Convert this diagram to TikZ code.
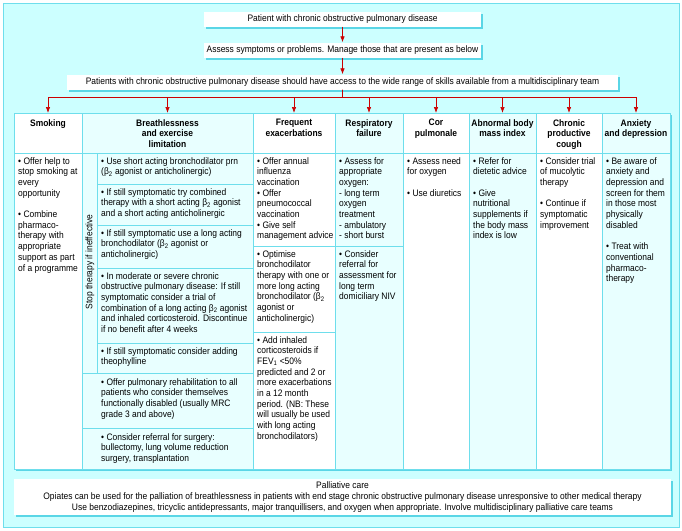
\documentclass[tikz,border=0pt]{standalone}
\usepackage{fontspec}
\setmainfont{Liberation Sans}[FakeStretch=0.9]
\usetikzlibrary{positioning,shadows,arrows.meta}

\definecolor{bgcyan}{RGB}{204,255,255}
\definecolor{rimcyan}{RGB}{110,222,236}
\definecolor{shadecyan}{RGB}{90,214,230}
\definecolor{palecyan}{RGB}{232,255,255}
\definecolor{arrred}{RGB}{204,0,0}

\tikzset{
	txt/.style={font=\fontsize{9.4}{10.7}\selectfont, inner sep=0pt, anchor=north west, align=left},
	hdr/.style={font=\bfseries\fontsize{9.4}{10.7}\selectfont, inner xsep=0pt, inner ysep=6pt, anchor=north, align=center},
	topbox/.style={fill=white, font=\fontsize{9.4}{10.7}\selectfont, inner sep=0pt,
		drop shadow={opacity=1, fill=shadecyan, shadow xshift=2pt, shadow yshift=-2pt}},
	flow/.style={arrred, line width=0.7pt, ->},
	cellline/.style={rimcyan, line width=0.8pt},
}

\begin{document}
\begin{tikzpicture}[x=1pt, y=-1pt, >={Latex[length=6pt,width=4.5pt]}]
			\useasboundingbox (0,0) rectangle (682,530);
			%%%	Frame
			\filldraw[fill=bgcyan, draw=rimcyan, line width=1pt] (3,3) rectangle (679,527);
			%%%	Top of the chart
			\node[topbox, minimum width=277, minimum height=15] (patient) at (342.5,19) {Patient with chronic obstructive pulmonary disease};
			\node[topbox, minimum width=277, minimum height=15] (assess) at (342.5,50) {Assess symptoms or problems. Manage those that are present as below};
			\node[topbox, minimum width=551, minimum height=15] (team) at (342.5,82) {Patients with chronic obstructive pulmonary disease should have access to the wide range of skills available from a multidisciplinary team};
			\coordinate (bus) at (0,97);
			%%%	Table
			\fill[shadecyan] (16,115) rectangle (672,471);
			\fill[white] (14,113) rectangle (82,469);
			\fill[palecyan] (82,113) rectangle (253,469);
			\fill[white] (253,113) rectangle (335,469);
			\fill[palecyan] (335,113) rectangle (403,469);
			\fill[white] (403,113) rectangle (469,469);
			\fill[palecyan] (469,113) rectangle (536,469);
			\fill[white] (536,113) rectangle (602,469);
			\fill[palecyan] (602,113) rectangle (670,469);
			\draw[cellline] (14,113) rectangle (670,469);
			\foreach \x in {82,253,335,403,469,536,602}
				\draw[cellline] (\x,113) -- (\x,469);
			\draw[cellline] (14,153) -- (670,153);
			\draw[cellline] (97,153) -- (97,373);
			\foreach \y in {184,225,268,343}
				\draw[cellline] (97,\y) -- (253,\y);
			\foreach \y in {373,428}
				\draw[cellline] (82,\y) -- (253,\y);
			\draw[cellline] (253,246) -- (403,246);
			\draw[cellline] (253,332) -- (335,332);
			%%%	Headers
			\node[hdr] (hSmoke) at (48,113) {Smoking};
			\node[hdr] (hBreath) at (167.5,113) {Breathlessness\\and exercise\\limitation};
			\node[hdr] (hExac) at (294,113) {Frequent\\exacerbations};
			\node[hdr] (hResp) at (369,113) {Respiratory\\failure};
			\node[hdr] (hCor) at (436,113) {Cor\\pulmonale};
			\node[hdr] (hMass) at (502.5,113) {Abnormal body\\mass index};
			\node[hdr] (hCough) at (569,113) {Chronic\\productive\\cough};
			\node[hdr] (hMood) at (636,113) {Anxiety\\and depression};
			%%%	Arrows
			\draw[flow] (patient) -- (assess);
			\draw[flow] (assess) -- (team);
			\foreach \h in {hSmoke,hBreath,hExac,hResp,hCor,hMass,hCough,hMood}
				\draw[flow] (team.south) -- (team.south |- bus) -| (\h.north);
			%%%	Cells
			\node[txt] (tSmoke) at (18,157) {• Offer help to\\stop smoking at\\every\\opportunity\\[10.7pt]• Combine\\pharmaco-\\therapy with\\appropriate\\support as part\\of a programme};
			\node[txt, anchor=center, rotate=90] (tStop) at (90,262) {Stop therapy if ineffective};
			\node[txt] (tB1) at (101,157) {• Use short acting bronchodilator prn\\(β\textsubscript{2} agonist or anticholinergic)};
			\node[txt] (tB2) at (101,188) {• If still symptomatic try combined\\therapy with a short acting β\textsubscript{2} agonist\\and a short acting anticholinergic};
			\node[txt] (tB3) at (101,229) {• If still symptomatic use a long acting\\bronchodilator (β\textsubscript{2} agonist or\\anticholinergic)};
			\node[txt] (tB4) at (101,272) {• In moderate or severe chronic\\obstructive pulmonary disease: If still\\symptomatic consider a trial of\\combination of a long acting β\textsubscript{2} agonist\\and inhaled corticosteroid. Discontinue\\if no benefit after 4 weeks};
			\node[txt] (tB5) at (101,347) {• If still symptomatic consider adding\\theophylline};
			\node[txt] (tB6) at (101,378) {• Offer pulmonary rehabilitation to all\\patients who consider themselves\\functionally disabled (usually MRC\\grade 3 and above)};
			\node[txt] (tB7) at (101,433) {• Consider referral for surgery:\\bullectomy, lung volume reduction\\surgery, transplantation};
			\node[txt] (tE1) at (257,157) {• Offer annual\\influenza\\vaccination\\• Offer\\pneumococcal\\vaccination\\• Give self\\management advice};
			\node[txt] (tE2) at (257,250) {• Optimise\\bronchodilator\\therapy with one or\\more long acting\\bronchodilator (β\textsubscript{2}\\agonist or\\anticholinergic)};
			\node[txt] (tE3) at (257,336) {• Add inhaled\\corticosteroids if\\FEV\textsubscript{1} <50\%\\predicted and 2 or\\more exacerbations\\in a 12 month\\period. (NB: These\\will usually be used\\with long acting\\bronchodilators)};
			\node[txt] (tR1) at (339,157) {• Assess for\\appropriate\\oxygen:\\- long term\\oxygen\\treatment\\- ambulatory\\- short burst};
			\node[txt] (tR2) at (339,250) {• Consider\\referral for\\assessment for\\long term\\domiciliary NIV};
			\node[txt] (tC1) at (407,157) {• Assess need\\for oxygen\\[10.7pt]• Use diuretics};
			\node[txt] (tM1) at (473,157) {• Refer for\\dietetic advice\\[10.7pt]• Give\\nutritional\\supplements if\\the body mass\\index is low};
			\node[txt] (tP1) at (540,157) {• Consider trial\\of mucolytic\\therapy\\[10.7pt]• Continue if\\symptomatic\\improvement};
			\node[txt] (tA1) at (606,157) {• Be aware of\\anxiety and\\depression and\\screen for them\\in those most\\physically\\disabled\\[10.7pt]• Treat with\\conventional\\pharmaco-\\therapy};
			%%%	Bottom
			\node[topbox, minimum width=657, minimum height=36, align=center, font=\fontsize{9.4}{11}\selectfont] (palli) at (342.5,497) {Palliative care\\Opiates can be used for the palliation of breathlessness in patients with end stage chronic obstructive pulmonary disease unresponsive to other medical therapy\\Use benzodiazepines, tricyclic antidepressants, major tranquillisers, and oxygen when appropriate. Involve multidisciplinary palliative care teams};
		\end{tikzpicture}
\end{document}
